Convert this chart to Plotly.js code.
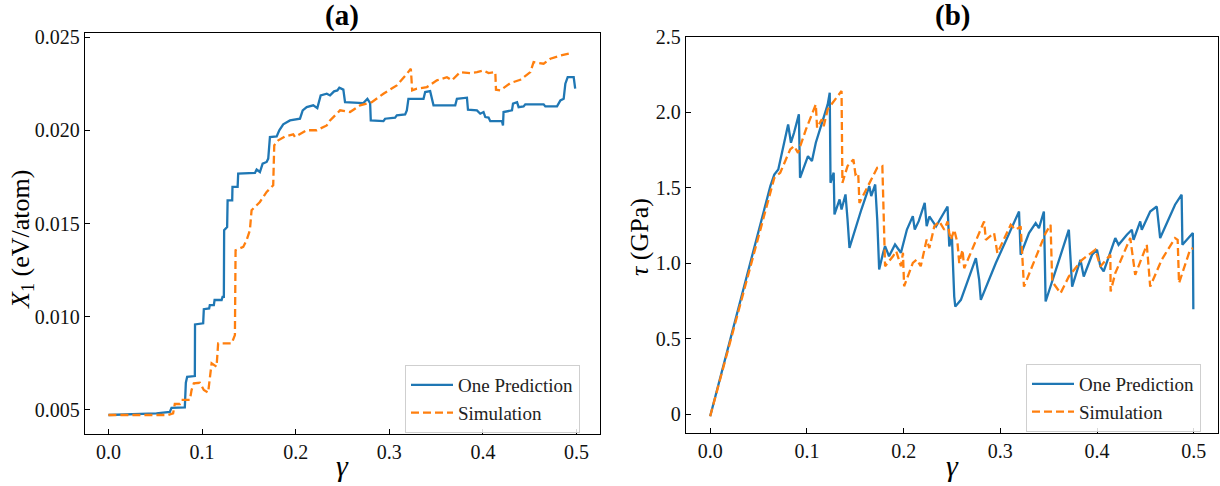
<!DOCTYPE html>
<html>
<head>
<meta charset="utf-8">
<script src="https://cdn.plot.ly/plotly-3.0.1.min.js"></script>
<style>html,body{margin:0;padding:0;background:#fff;}#chart{width:1220px;height:486px;}</style>
</head>
<body>
<div id="chart"></div>
<script>
// ---------- Data: panel (a) X1 (eV/atom) vs gamma ----------
const a_pred_gamma = [0,0.0513,0.0656,0.0674,0.0816,0.0827,0.0841,0.0923,0.0925,0.1012,0.1019,0.1076,0.1083,0.1126,0.1134,0.1209,0.1219,0.1233,0.1236,0.1268,0.1273,0.1322,0.1325,0.1380,0.1386,0.1565,0.1583,0.1618,0.1647,0.1690,0.1707,0.1725,0.1797,0.1825,0.1867,0.1939,0.2046,0.2075,0.2118,0.2188,0.2231,0.2267,0.2332,0.2367,0.2410,0.2445,0.2466,0.2509,0.2527,0.2723,0.2766,0.2795,0.2802,0.2937,0.2955,0.3062,0.3080,0.3169,0.3187,0.3204,0.3365,0.3383,0.3436,0.3455,0.3472,0.3704,0.3722,0.3829,0.3840,0.3936,0.3971,0.4006,0.4025,0.4060,0.4078,0.4203,0.4214,0.4220,0.4310,0.4321,0.4364,0.4381,0.4434,0.4452,0.4648,0.4666,0.4791,0.4827,0.4862,0.4880,0.4905,0.4969,0.4985];
const a_pred_x1 = [0.00473,0.00482,0.00489,0.00511,0.00514,0.00646,0.00678,0.00682,0.00959,0.00965,0.01041,0.01045,0.01063,0.01063,0.0109,0.0109,0.01107,0.01107,0.01465,0.01482,0.01625,0.01625,0.01697,0.01697,0.01768,0.01772,0.0179,0.01777,0.01822,0.01831,0.01849,0.01965,0.01968,0.02001,0.02033,0.02054,0.02063,0.02108,0.02125,0.02135,0.0212,0.02188,0.02197,0.02188,0.0221,0.02215,0.02229,0.02219,0.02152,0.02147,0.0217,0.02147,0.02054,0.0205,0.02063,0.02069,0.02081,0.02086,0.02108,0.0217,0.0217,0.02206,0.02211,0.0217,0.02135,0.02135,0.0217,0.02176,0.02111,0.02108,0.0209,0.02099,0.02072,0.02069,0.0205,0.0205,0.02027,0.02099,0.02108,0.02144,0.02152,0.02125,0.02129,0.0214,0.0214,0.02129,0.02129,0.02161,0.0217,0.02251,0.02286,0.02286,0.02224];
const a_sim_gamma = [0,0.0637,0.0691,0.0709,0.0763,0.0781,0.0870,0.0888,0.0912,0.0976,0.1019,0.1065,0.1102,0.1155,0.1172,0.1316,0.1351,0.1358,0.1440,0.1476,0.1511,0.1529,0.1618,0.1690,0.1760,0.1771,0.1814,0.1886,0.1974,0.1993,0.2118,0.2225,0.2332,0.2367,0.2474,0.2581,0.2688,0.2813,0.2937,0.3080,0.3187,0.3230,0.3244,0.3294,0.3401,0.3508,0.3615,0.3668,0.3757,0.3864,0.3936,0.4006,0.4060,0.4132,0.4139,0.4185,0.4292,0.4399,0.4506,0.4541,0.4648,0.4720,0.4827,0.4934];
const a_sim_x1 = [0.00473,0.00473,0.00482,0.00532,0.00532,0.00554,0.00554,0.00607,0.00643,0.00646,0.00607,0.00593,0.0075,0.00732,0.00857,0.00857,0.00902,0.01357,0.01375,0.01411,0.01465,0.01572,0.01616,0.0167,0.01706,0.0192,0.01947,0.01968,0.01979,0.01965,0.02001,0.02001,0.02027,0.02054,0.02108,0.02099,0.02135,0.02152,0.02197,0.02242,0.02304,0.02331,0.02215,0.02224,0.02233,0.02269,0.02286,0.02269,0.02313,0.02308,0.02313,0.02322,0.02308,0.02313,0.02219,0.02215,0.02254,0.02272,0.02313,0.02367,0.02358,0.02385,0.02402,0.02415];

// ---------- Data: panel (b) tau (GPa) vs gamma ----------
const b_pred_gamma = [0,0.0622,0.0663,0.0704,0.0806,0.0835,0.0867,0.0917,0.0929,0.1011,0.1052,0.1092,0.1215,0.1236,0.1244,0.1277,0.1285,0.1338,0.1358,0.1399,0.1420,0.1440,0.1563,0.1645,0.1665,0.1706,0.1727,0.1747,0.1788,0.1808,0.1849,0.1911,0.1972,0.2034,0.2095,0.2115,0.2156,0.2218,0.2238,0.2266,0.2335,0.2403,0.2454,0.2472,0.2499,0.2523,0.2534,0.2592,0.2747,0.2781,0.2798,0.2953,0.3193,0.3210,0.3296,0.3365,0.3399,0.3450,0.3468,0.3708,0.3742,0.3828,0.3862,0.3948,0.3999,0.4034,0.4068,0.4188,0.4222,0.4308,0.4359,0.4377,0.4446,0.4462,0.4549,0.4617,0.4652,0.4806,0.4874,0.4882,0.4926,0.4990,0.4995];
const b_pred_tau = [-0.015,1.511,1.588,1.622,1.920,1.799,1.865,1.987,1.566,1.710,1.677,1.799,2.053,2.131,1.533,1.600,1.323,1.423,1.356,1.456,1.290,1.102,1.356,1.511,1.445,1.522,1.290,0.958,1.069,1.113,1.046,1.124,1.069,1.223,1.312,1.223,1.279,1.400,1.246,1.310,1.244,1.321,1.376,1.111,1.177,0.779,0.712,0.757,1.034,0.890,0.757,1.001,1.343,1.056,1.200,1.266,1.233,1.343,0.746,1.222,0.845,1.023,0.912,1.056,1.089,0.978,0.945,1.167,1.122,1.189,1.222,1.155,1.277,1.222,1.343,1.376,1.167,1.388,1.454,1.122,1.155,1.200,0.695];
const b_sim_gamma = [0,0.0663,0.0724,0.0827,0.0867,0.0908,0.0990,0.1092,0.1105,0.1154,0.1174,0.1215,0.1358,0.1367,0.1420,0.1481,0.1502,0.1530,0.1543,0.1727,0.1780,0.1788,0.1808,0.1890,0.1923,0.1972,0.1993,0.2005,0.2095,0.2136,0.2177,0.2238,0.2266,0.2317,0.2369,0.2420,0.2454,0.2472,0.2489,0.2523,0.2557,0.2575,0.2609,0.2626,0.2832,0.2850,0.2935,0.2969,0.3107,0.3158,0.3210,0.3244,0.3468,0.3519,0.3536,0.3622,0.3708,0.3845,0.3982,0.4034,0.4137,0.4140,0.4188,0.4343,0.4394,0.4514,0.4549,0.4668,0.4806,0.4833,0.4847,0.4961,0.4992];
const b_sim_tau = [-0.015,1.566,1.600,1.754,1.777,1.732,1.887,2.053,1.898,1.954,1.909,2.020,2.142,1.533,1.644,1.688,1.588,1.600,1.400,1.633,1.644,1.423,0.980,1.046,1.080,0.980,1.069,0.847,1.002,1.024,0.980,1.157,1.100,1.244,1.277,1.222,1.277,1.200,1.155,1.222,1.133,1.001,1.089,0.967,1.277,1.155,1.200,1.067,1.255,1.222,1.244,0.845,1.200,1.255,0.878,0.801,0.912,1.023,1.089,0.978,1.056,0.812,0.934,1.167,0.923,1.122,0.845,1.023,1.167,1.155,0.868,1.089,1.100];

// ---------- Tick labels ----------
const gamma_ticks = [0, 0.1, 0.2, 0.3, 0.4, 0.5];
const gamma_ticktext = ['0.0', '0.1', '0.2', '0.3', '0.4', '0.5'];
const a_ticks = [0.005, 0.010, 0.015, 0.020, 0.025];
const a_ticktext = ['0.005', '0.010', '0.015', '0.020', '0.025'];
const b_ticks = [0, 0.5, 1.0, 1.5, 2.0, 2.5];
const b_ticktext = ['0', '0.5', '1.0', '1.5', '2.0', '2.5'];
const series_names = ['One Prediction', 'Simulation'];

const BLUE = '#1f77b4', ORANGE = '#ff7f0e';
const FONT = 'Liberation Serif';

const traces = [
  {x: a_pred_gamma, y: a_pred_x1, xaxis: 'x', yaxis: 'y', mode: 'lines', name: series_names[0],
   line: {color: BLUE, width: 2.3}, legend: 'legend'},
  {x: a_sim_gamma, y: a_sim_x1, xaxis: 'x', yaxis: 'y', mode: 'lines', name: series_names[1],
   line: {color: ORANGE, width: 2.3, dash: '8px,4px'}, legend: 'legend'},
  {x: b_pred_gamma, y: b_pred_tau, xaxis: 'x2', yaxis: 'y2', mode: 'lines', name: series_names[0],
   line: {color: BLUE, width: 2.3}, legend: 'legend2'},
  {x: b_sim_gamma, y: b_sim_tau, xaxis: 'x2', yaxis: 'y2', mode: 'lines', name: series_names[1],
   line: {color: ORANGE, width: 2.3, dash: '8px,4px'}, legend: 'legend2'}
];

const axBase = {
  showgrid: false, zeroline: false, showline: true, mirror: true,
  linecolor: '#000', linewidth: 1.3, ticks: 'inside', ticklen: 5, tickwidth: 1,
  tickcolor: '#000', tickfont: {family: FONT, size: 20, color: '#111'}, tickmode: 'array'
};
const W = 1220, H = 486;
const legBase = {
  xanchor: 'left', yanchor: 'top', bordercolor: '#cfcfcf', borderwidth: 1,
  bgcolor: 'rgba(255,255,255,0.85)', font: {family: FONT, size: 19, color: '#222'},
  tracegroupgap: 0, itemwidth: 42
};

const layout = {
  width: W, height: H, margin: {l: 0, r: 0, t: 0, b: 0},
  paper_bgcolor: '#fff', plot_bgcolor: '#fff', showlegend: true,
  xaxis: Object.assign({}, axBase, {domain: [85/W, 600/W], range: [-0.025, 0.525], anchor: 'y',
    tickvals: gamma_ticks, ticktext: gamma_ticktext}),
  yaxis: Object.assign({}, axBase, {domain: [(H-434)/H, (H-33)/H], range: [0.00371, 0.02523], anchor: 'x',
    tickvals: a_ticks, ticktext: a_ticktext}),
  xaxis2: Object.assign({}, axBase, {domain: [686/W, 1218/W], range: [-0.025, 0.525], anchor: 'y2',
    tickvals: gamma_ticks, ticktext: gamma_ticktext}),
  yaxis2: Object.assign({}, axBase, {domain: [(H-433)/H, (H-37)/H], range: [-0.126, 2.5], anchor: 'x2',
    tickvals: b_ticks, ticktext: b_ticktext}),
  legend: Object.assign({}, legBase, {x: 405/W, y: (H-365)/H}),
  legend2: Object.assign({}, legBase, {x: 1026/W, y: (H-364)/H}),
  annotations: [
    {text: '<b>(a)</b>', x: 342/W, y: (H-16)/H, xref: 'paper', yref: 'paper', showarrow: false,
     xanchor: 'center', yanchor: 'middle', font: {family: FONT, size: 29, color: '#000'}},
    {text: '<b>(b)</b>', x: 952/W, y: (H-16)/H, xref: 'paper', yref: 'paper', showarrow: false,
     xanchor: 'center', yanchor: 'middle', font: {family: FONT, size: 29, color: '#000'}},
    {text: '<i>γ</i>', x: 342/W, y: (H-465)/H, xref: 'paper', yref: 'paper', showarrow: false,
     xanchor: 'center', yanchor: 'middle', font: {family: FONT, size: 30, color: '#000'}},
    {text: '<i>γ</i>', x: 952/W, y: (H-465)/H, xref: 'paper', yref: 'paper', showarrow: false,
     xanchor: 'center', yanchor: 'middle', font: {family: FONT, size: 30, color: '#000'}},
    {text: '<i>X</i><sub>1</sub> (eV/atom)', x: 22/W, y: (H-240)/H, xref: 'paper', yref: 'paper', showarrow: false,
     textangle: -90, xanchor: 'center', yanchor: 'middle', font: {family: FONT, size: 26, color: '#000'}},
    {text: '<i>τ</i> (GPa)', x: 640/W, y: (H-237)/H, xref: 'paper', yref: 'paper', showarrow: false,
     textangle: -90, xanchor: 'center', yanchor: 'middle', font: {family: FONT, size: 26, color: '#000'}}
  ]
};

Plotly.newPlot('chart', traces, layout, {displayModeBar: false, staticPlot: true});
</script>
</body>
</html>
